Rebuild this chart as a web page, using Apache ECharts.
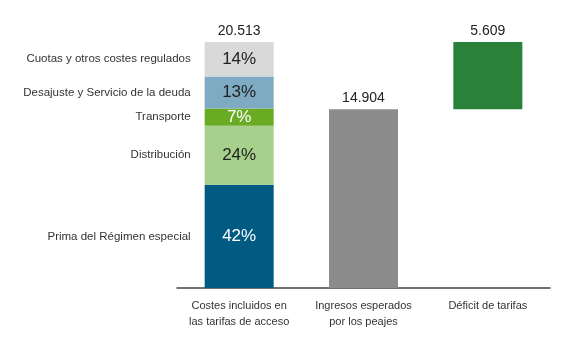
<!DOCTYPE html>
<html>
<head>
<meta charset="utf-8">
<script src="https://cdn.jsdelivr.net/npm/echarts@6/dist/echarts.min.js"></script>
<style>
html,body{margin:0;padding:0;background:#fff;}
#c{width:583px;height:339px;}
</style>
</head>
<body>
<div id="c"></div>
<script>
// Data (millions of euros)
var categories = ['Costes incluidos en\nlas tarifas de acceso', 'Ingresos esperados\npor los peajes', 'Déficit de tarifas'];
var segmentNames = ['Prima del Régimen especial', 'Distribución', 'Transporte', 'Desajuste y Servicio de la deuda', 'Cuotas y otros costes regulados'];
var segmentValues = [8615, 4923, 1436, 2667, 2872];
var segmentPct = ['42%', '24%', '7%', '13%', '14%'];
var totalCostes = 20513;
var ingresos = 14904;
var deficit = 5609;

var segmentColors = ['#005a82', '#a6d08c', '#6aab24', '#7eaac3', '#d9d9d9'];
var pctColors = ['#ffffff', '#222222', '#ffffff', '#222222', '#222222'];

var FONT = '"Liberation Sans", Arial, sans-serif';

function fmt(v) {
  return String(v).replace(/\B(?=(\d{3})+(?!\d))/g, '.');
}

var BW = 69;
var series = [];
segmentNames.forEach(function (name, i) {
  series.push({
    name: name, type: 'bar', stack: 'main', barWidth: BW, barGap: '-100%',
    data: [segmentValues[i], '-', '-'],
    itemStyle: { color: segmentColors[i] },
    label: { show: true, position: 'inside', formatter: segmentPct[i], color: pctColors[i], fontSize: 17, fontFamily: FONT },
    silent: true
  });
});
series.push({
  name: 'Ingresos', type: 'bar', stack: 'main', barWidth: BW, barGap: '-100%',
  data: ['-', ingresos, '-'],
  itemStyle: { color: '#8c8c8c' },
  label: { show: true, position: 'top', distance: 4, formatter: function (p) { return fmt(p.value); }, color: '#222', fontSize: 14, fontFamily: FONT }
});
series.push({
  name: 'base', type: 'bar', stack: 'main', barWidth: BW, barGap: '-100%',
  data: ['-', '-', ingresos],
  itemStyle: { color: 'rgba(0,0,0,0)' }
});
series.push({
  name: 'Déficit', type: 'bar', stack: 'main', barWidth: BW, barGap: '-100%',
  data: ['-', '-', deficit],
  itemStyle: { color: '#2a8139' },
  label: { show: true, position: 'top', distance: 4, formatter: function (p) { return fmt(p.value); }, color: '#222', fontSize: 14, fontFamily: FONT }
});
// name labels to the left of segments
segmentNames.forEach(function (name, i) {
  series.push({
    name: name + ' lab', type: 'bar', stack: 'lab', barWidth: BW, barGap: '-100%',
    data: [segmentValues[i], '-', '-'],
    itemStyle: { color: 'rgba(0,0,0,0)' },
    label: { show: true, position: 'left', distance: 14, formatter: name, color: '#333', fontSize: 11.5, fontFamily: FONT },
    silent: true
  });
});
// total label
series.push({
  name: 'total', type: 'bar', stack: 'tot', barWidth: BW, barGap: '-100%',
  data: [totalCostes, '-', '-'],
  itemStyle: { color: 'rgba(0,0,0,0)' },
  label: { show: true, position: 'top', distance: 4, formatter: function (p) { return fmt(p.value); }, color: '#222', fontSize: 14, fontFamily: FONT },
  silent: true
});

var chart = echarts.init(document.getElementById('c'));
chart.setOption({
  animation: false,
  grid: { left: 177, right: 33, top: 42, bottom: 51 },
  xAxis: {
    type: 'category', data: categories,
    axisLine: { lineStyle: { color: '#444', width: 1.5 } },
    axisTick: { show: false },
    axisLabel: { color: '#333', fontSize: 11, fontFamily: FONT, margin: 10, lineHeight: 16, interval: 0 }
  },
  yAxis: { type: 'value', min: 0, max: totalCostes, show: false, splitLine: { show: false } },
  series: series
});
</script>
</body>
</html>
